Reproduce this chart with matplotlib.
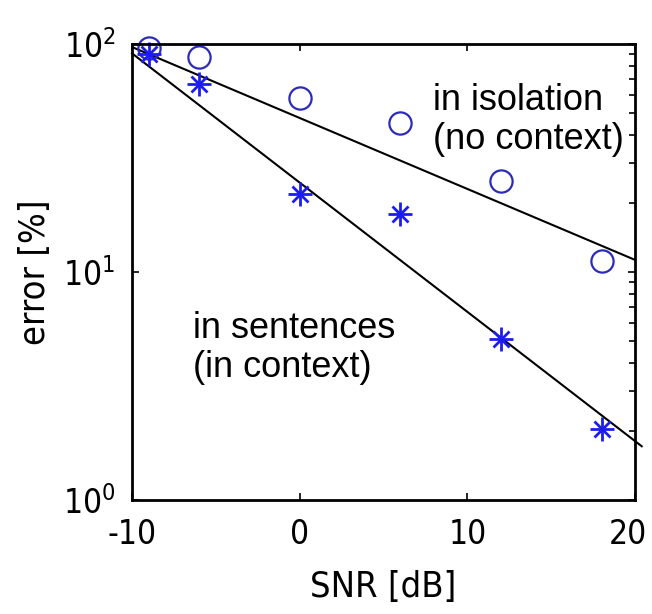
import numpy as np
import matplotlib
matplotlib.use("Agg")
import matplotlib.pyplot as plt
from matplotlib.transforms import ScaledTranslation

# SNR values (dB) for the measured points
snr = [-9, -6, 0, 6, 12, 18]
# error [%], words in isolation (circles) and in sentences (stars)
err_isolation = [96, 88, 58, 45, 25, 11.2]
err_sentences = [90, 67, 22, 18, 5.1, 2.05]

# fitted lines (end points)
fit_snr = [-10, 20]
fit_isolation = [97, 11.3]
fit_sent_snr = [-10, 20.4]
fit_sentences = [91, 1.72]

plt.rcParams["mathtext.default"] = "regular"
plt.rcParams["axes.unicode_minus"] = False

tick_font = ["DejaVu Sans"]
text_font = ["Liberation Sans", "DejaVu Sans"]

fig = plt.figure(figsize=(6.52, 6.14), dpi=100)
ax = fig.add_axes([0.2025, 0.1857, 0.7715, 0.7426])

ax.plot(fit_snr, fit_isolation, color="black", lw=1.5)
ax.plot(fit_sent_snr, fit_sentences, color="black", lw=1.5, clip_on=False)

ax.plot(snr, err_isolation, "o", mfc="none", mec="#2b2bb8", ms=16, mew=1.6,
        clip_on=False)
ax.plot(snr, err_sentences, "+", color="#1c1cf0", ms=17, mew=2, clip_on=False)
ax.plot(snr, err_sentences, "x", color="#1c1cf0", ms=11, mew=2, clip_on=False)

ax.set_yscale("log")
ax.set_xlim(-10, 20)
ax.set_ylim(1, 100)
ax.set_xticks([-10, 0, 10, 20])

ax.tick_params(which="major", direction="in", length=5, width=1.2,
               top=True, right=True, labelsize=24, pad=13)
ax.tick_params(axis="y", which="major", pad=12)
ax.tick_params(axis="y", which="minor", direction="in", length=4, width=1.2,
               left=False, right=True)
for s in ax.spines.values():
    s.set_linewidth(2)

for lbl in ax.get_xticklabels() + ax.get_yticklabels():
    lbl.set_family(tick_font)
    lbl.set_stretch("condensed")

# last x label sits at the figure edge, nudge it in a little
last = ax.get_xticklabels()[-1]
last.set_transform(last.get_transform() +
                   ScaledTranslation(-5 / 72, 0, fig.dpi_scale_trans))

ax.set_xlabel("SNR [dB]", fontsize=26, family=tick_font, stretch="condensed",
              labelpad=14)
ax.set_ylabel("error [%]", fontsize=26, family=tick_font, stretch="condensed",
              labelpad=8)

ax.text(0.598, 0.915, "in isolation\n(no context)", transform=ax.transAxes,
        fontsize=26, family=text_font, va="top", ha="left", linespacing=1.15)
ax.text(0.121, 0.415, "in sentences\n(in context)", transform=ax.transAxes,
        fontsize=26, family=text_font, va="top", ha="left", linespacing=1.15)

fig.savefig("out.png", dpi=100)
